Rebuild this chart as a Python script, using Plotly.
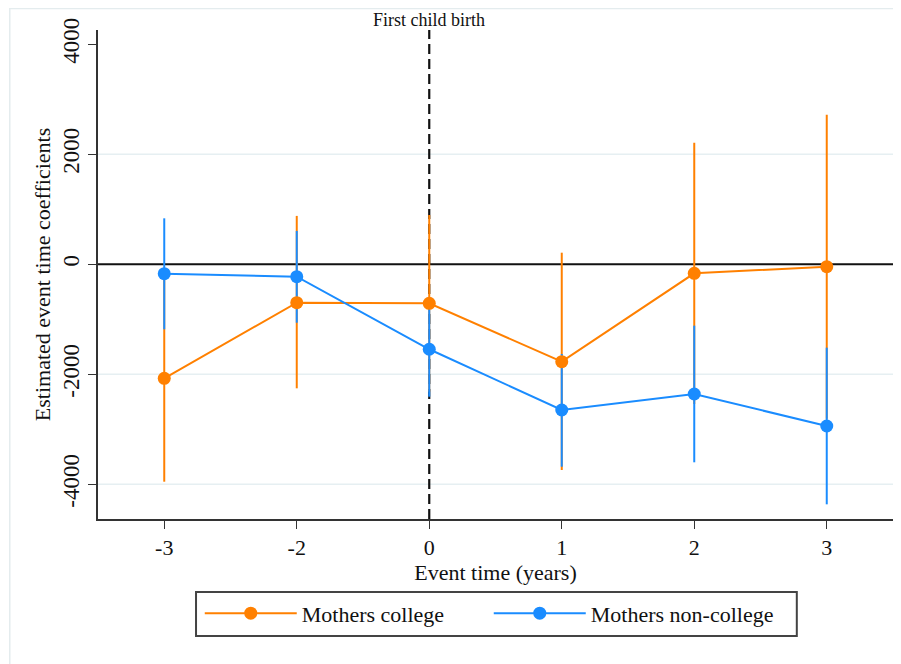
import plotly.graph_objects as go

# ---- data ----
event_times = ["-3", "-2", "0", "1", "2", "3"]
college_coef = [-2073, -698, -709, -1771, -164, -44]
college_lo = [-3953, -2255, -2314, -3740, -2539, -2808]
college_hi = [-193, 880, 896, 211, 2211, 2720]
noncollege_coef = [-171, -225, -1545, -2649, -2358, -2940]
noncollege_lo = [-1182, -1062, -2407, -3680, -3600, -4364]
noncollege_hi = [836, 607, -683, -1631, -1116, -1516]
y_ticks = [-4000, -2000, 0, 2000, 4000]
y_tick_labels = ["-4000", "-2000", "0", "2000", "4000"]
grid_vals = [-4000, -2000, 2000]
event_index = event_times.index("0")

ORANGE = "#ff8000"
BLUE = "#1a8cff"
FONT = "Liberation Serif"

xpos = list(range(len(event_times)))
Y_RANGE = [-4631, 4260]

fig = go.Figure()

def ci_trace(coef, lo, hi, color):
    return go.Scatter(
        x=xpos, y=coef, mode="markers",
        marker=dict(size=1, opacity=0, color=color),
        error_y=dict(type="data", symmetric=False,
                     array=[h - c for h, c in zip(hi, coef)],
                     arrayminus=[c - l for c, l in zip(coef, lo)],
                     color=color, thickness=2, width=0),
        showlegend=False, hoverinfo="skip")

fig.add_trace(ci_trace(college_coef, college_lo, college_hi, ORANGE))
fig.add_trace(ci_trace(noncollege_coef, noncollege_lo, noncollege_hi, BLUE))

fig.add_trace(go.Scatter(x=xpos, y=college_coef, mode="lines+markers",
                         name="Mothers college",
                         line=dict(color=ORANGE, width=2),
                         marker=dict(color=ORANGE, size=13)))
fig.add_trace(go.Scatter(x=xpos, y=noncollege_coef, mode="lines+markers",
                         name="Mothers non-college",
                         line=dict(color=BLUE, width=2),
                         marker=dict(color=BLUE, size=13)))

shapes = []
for g in grid_vals:
    shapes.append(dict(type="line", xref="paper", x0=0, x1=1, yref="y", y0=g, y1=g,
                       line=dict(color="#e6eff2", width=1.5), layer="below"))
shapes.append(dict(type="line", xref="paper", x0=0, x1=1, yref="y", y0=0, y1=0,
                   line=dict(color="#111111", width=2), layer="below"))
shapes.append(dict(type="line", xref="x", x0=event_index, x1=event_index,
                   yref="y", y0=Y_RANGE[0], y1=Y_RANGE[1],
                   line=dict(color="#111111", width=2.2, dash="10px,5px"), layer="below"))
# outer graph region border
shapes.append(dict(type="rect", xref="paper", yref="paper",
                   x0=-0.111, x1=1.03, y0=-0.31, y1=1.044,
                   line=dict(color="#e4ecee", width=1.5), layer="below"))
# legend frame
shapes.append(dict(type="rect", xref="paper", yref="paper",
                   x0=0.1233, x1=0.879, y0=-0.2393, y1=-0.1493,
                   line=dict(color="#444444", width=2)))

fig.update_layout(
    width=901, height=664,
    margin=dict(l=90, r=16, t=22, b=153, autoexpand=False),
    paper_bgcolor="white", plot_bgcolor="white",
    font=dict(family=FONT, size=22, color="#111111"),
    shapes=shapes,
    showlegend=True,
    legend=dict(orientation="h", x=0.128, xanchor="left", y=-0.15, yanchor="top",
                borderwidth=0, bgcolor="rgba(0,0,0,0)", itemwidth=92,
                font=dict(family=FONT, size=22, color="#111111"),
                entrywidth=182, entrywidthmode="pixels"),
    annotations=[dict(x=event_index, xref="x", y=1, yref="paper", yanchor="bottom",
                      text="First child birth", showarrow=False,
                      font=dict(family=FONT, size=18, color="#111111"), yshift=-2)],
)

fig.update_xaxes(range=[-0.5, len(event_times) - 0.5], tickvals=xpos, ticktext=event_times,
                 showgrid=False, zeroline=False, showline=True, linecolor="#333333",
                 linewidth=1.5, ticks="outside", ticklen=8, tickcolor="#333333",
                 tickfont=dict(size=22), automargin=False,
                 title=dict(text="Event time (years)", font=dict(size=22), standoff=0))
fig.update_yaxes(range=Y_RANGE, tickvals=y_ticks, ticktext=y_tick_labels, tickangle=-90,
                 showgrid=False, zeroline=False, showline=True, linecolor="#333333",
                 linewidth=1.5, ticks="outside", ticklen=8, tickcolor="#333333",
                 tickfont=dict(size=23), automargin=False,
                 title=dict(text="Estimated event time coefficients", font=dict(size=22), standoff=2))

fig.write_html("out.html")
